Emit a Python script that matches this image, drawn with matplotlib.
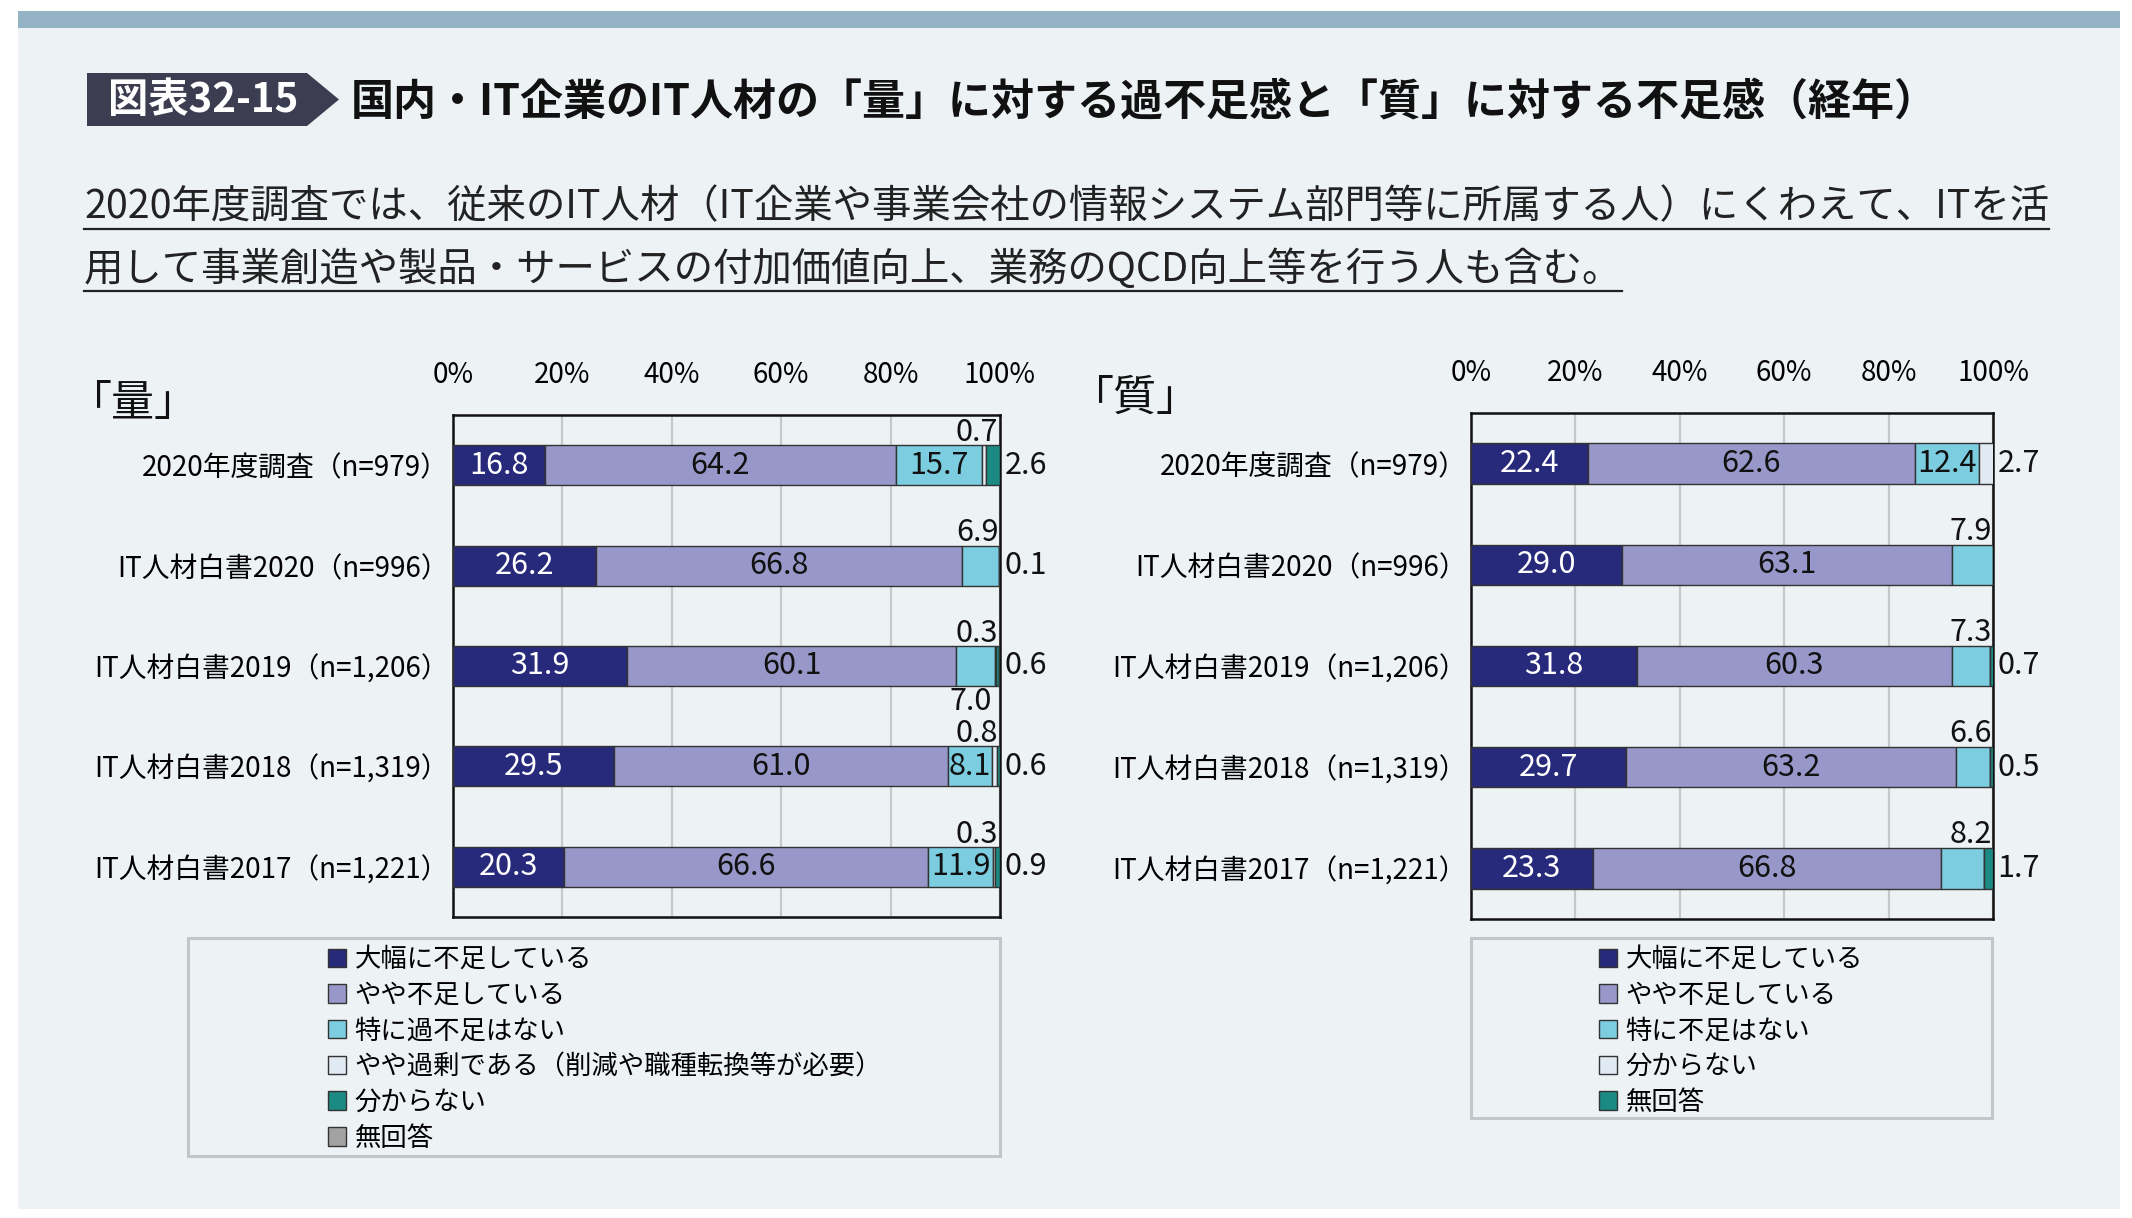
import matplotlib
matplotlib.use('Agg')
import matplotlib.pyplot as plt
from matplotlib.patches import Rectangle, Polygon, Patch
import numpy as np

plt.rcParams['font.family'] = ['Noto Sans CJK JP', 'DejaVu Sans']

# ── データ ─────────────────────────────────────────
categories = ['2020年度調査（n=979）', 'IT人材白書2020（n=996）', 'IT人材白書2019（n=1,206）',
              'IT人材白書2018（n=1,319）', 'IT人材白書2017（n=1,221）']

# 「量」
ryo_labels = ['大幅に不足している', 'やや不足している', '特に過不足はない',
              'やや過剰である（削減や職種転換等が必要）', '分からない', '無回答']
ryo_severe = [16.8, 26.2, 31.9, 29.5, 20.3]
ryo_some = [64.2, 66.8, 60.1, 61.0, 66.6]
ryo_ok = [15.7, 6.9, 7.0, 8.1, 11.9]
ryo_excess = [0.7, 0.0, 0.3, 0.8, 0.3]
ryo_unknown = [2.6, 0.1, 0.6, 0.6, 0.9]
ryo_noans = [0.0, 0.0, 0.0, 0.0, 0.0]

# 「質」
shitsu_labels = ['大幅に不足している', 'やや不足している', '特に不足はない', '分からない', '無回答']
shitsu_severe = [22.4, 29.0, 31.8, 29.7, 23.3]
shitsu_some = [62.6, 63.1, 60.3, 63.2, 66.8]
shitsu_ok = [12.4, 7.9, 7.3, 6.6, 8.2]
shitsu_unknown = [2.7, 0.0, 0.0, 0.0, 0.0]
shitsu_noans = [0.0, 0.0, 0.7, 0.5, 1.7]

# ── 色 ─────────────────────────────────────────────
C_NAVY = '#272a7b'
C_LAV = '#9797c9'
C_CYAN = '#7ccde0'
C_PALE = '#e1e9f3'
C_TEAL = '#1b8a82'
C_GRAY = '#a2a2a2'
BG = '#edf2f5'

W, H = 2132, 1218
fig = plt.figure(figsize=(W / 100, H / 100), dpi=100, facecolor='white')

# 背景用の全面 axes (ピクセル座標)
bg = fig.add_axes([0, 0, 1, 1], zorder=-5)
bg.set_xlim(0, W)
bg.set_ylim(H, 0)
bg.axis('off')
bg.add_patch(Rectangle((18, 11), 2102, 1198, facecolor=BG, edgecolor='none'))
bg.add_patch(Rectangle((18, 11), 2102, 17, facecolor='#94b4c6', edgecolor='none'))

# タイトル
bg.add_patch(Polygon([(87, 73), (307, 73), (339, 99.5), (307, 126), (87, 126)],
                     closed=True, facecolor='#3c3d50', edgecolor='none'))
bg.text(203, 100, '図表32-15', color='white', fontsize=29, fontweight='bold',
        ha='center', va='center')

renderer = fig.canvas.get_renderer()


def fit_text(x, y, s, target_w, size0, **kw):
    t = bg.text(x, y, s, fontsize=size0, ha='left', va='center', **kw)
    w = t.get_window_extent(renderer).width
    t.set_fontsize(size0 * target_w / w)
    return t


fit_text(351, 102, '国内・IT企業のIT人材の「量」に対する過不足感と「質」に対する不足感（経年）',
         1588, 30, fontweight='bold', color='#111111')

sub1 = fit_text(84, 207, '2020年度調査では、従来のIT人材（IT企業や事業会社の情報システム部門等に所属する人）にくわえて、ITを活',
                1969, 26, color='#222222')
sub2 = bg.text(84, 270, '用して事業創造や製品・サービスの付加価値向上、業務のQCD向上等を行う人も含む。',
               fontsize=sub1.get_fontsize(), ha='left', va='center', color='#222222')
for t, yy in [(sub1, 229), (sub2, 291)]:
    ext = t.get_window_extent(renderer)
    bg.plot([84, 84 + ext.width], [yy, yy], color='#222222', lw=1.6)

bg.text(68, 404, '「量」', fontsize=31, ha='left', va='center', color='#111111')
bg.text(1070, 399, '「質」', fontsize=31, ha='left', va='center', color='#111111')

# 凡例枠
bg.add_patch(Rectangle((188, 938), 812, 218, facecolor=BG, edgecolor='#c2c6ca', lw=2.2))
bg.add_patch(Rectangle((1471, 938), 521, 180, facecolor=BG, edgecolor='#c2c6ca', lw=2.2))


def px_axes(x0, y0, x1, y1):
    return fig.add_axes([x0 / W, 1 - y1 / H, (x1 - x0) / W, (y1 - y0) / H])


def draw_panel(ax, series, colors, inside_min):
    severe, some, ok, rest_above, rest_right = series
    n = len(categories)
    y = np.arange(n)
    bh = 0.4
    left = np.zeros(n)
    for vals, col in zip(colors['vals'], colors['cols']):
        ax.barh(y, vals, left=left, height=bh, color=col, edgecolor='#333333',
                linewidth=1.0, zorder=3)
        left = left + np.array(vals)

    ax.set_xlim(0, 100)
    ax.set_ylim(n - 0.5, -0.5)
    ax.set_facecolor(BG)
    ax.xaxis.tick_top()
    ax.set_xticks([0, 20, 40, 60, 80, 100])
    ax.set_xticklabels(['0%', '20%', '40%', '60%', '80%', '100%'])
    ax.tick_params(axis='x', length=0, pad=18, labelsize=20)
    ax.set_yticks(y)
    ax.set_yticklabels(categories)
    ax.tick_params(axis='y', length=0, pad=3, labelsize=20)
    ax.grid(axis='x', color='#c6c9cc', lw=1.6, zorder=0)
    for sp in ax.spines.values():
        sp.set_color('#111111')
        sp.set_linewidth(1.8)

    fs = 22
    for i in range(n):
        ax.text(severe[i] / 2, i, f'{severe[i]:.1f}', color='white', fontsize=fs,
                ha='center', va='center', zorder=5)
        ax.text(severe[i] + some[i] / 2, i, f'{some[i]:.1f}', color='#111111', fontsize=fs,
                ha='center', va='center', zorder=5)
        above = rest_above[i] if rest_above is not None else 0
        if ok[i] >= inside_min:
            ax.text(severe[i] + some[i] + ok[i] / 2, i, f'{ok[i]:.1f}', color='#111111',
                    fontsize=fs, ha='center', va='center', zorder=5)
        elif above > 0:
            # 上側は「やや過剰」の値が使うので、バーの下に置く
            ax.text(98.6, i + bh / 2, f'{ok[i]:.1f}', color='#111111', fontsize=fs,
                    ha='right', va='top', zorder=5)
        else:
            ax.text(99.8, i - bh / 2 + 0.02, f'{ok[i]:.1f}', color='#111111', fontsize=fs,
                    ha='right', va='bottom', zorder=5)
        if above > 0:
            ax.text(99.6, i - bh / 2 + 0.03, f'{above:.1f}', color='#111111', fontsize=fs,
                    ha='right', va='bottom', zorder=5)
        if rest_right[i] > 0:
            ax.text(100.9, i, f'{rest_right[i]:.1f}', color='#111111', fontsize=fs,
                    ha='left', va='center', clip_on=False, zorder=5)


# 「量」パネル
ax1 = px_axes(453, 415, 1000, 917)
ryo_right = [u + na for u, na in zip(ryo_unknown, ryo_noans)]
draw_panel(ax1, (ryo_severe, ryo_some, ryo_ok, ryo_excess, ryo_right),
           {'vals': [ryo_severe, ryo_some, ryo_ok, ryo_excess, ryo_unknown, ryo_noans],
            'cols': [C_NAVY, C_LAV, C_CYAN, C_PALE, C_TEAL, C_GRAY]}, inside_min=8.0)

# 「質」パネル
ax2 = px_axes(1471, 413, 1993, 919)
shitsu_right = [u + na for u, na in zip(shitsu_unknown, shitsu_noans)]
draw_panel(ax2, (shitsu_severe, shitsu_some, shitsu_ok, None, shitsu_right),
           {'vals': [shitsu_severe, shitsu_some, shitsu_ok, shitsu_unknown, shitsu_noans],
            'cols': [C_NAVY, C_LAV, C_CYAN, C_PALE, C_TEAL]}, inside_min=9.0)

# 凡例
leg_kw = dict(loc='upper left', frameon=False, fontsize=19, handlelength=0.7,
              handleheight=0.7, handletextpad=0.3, labelspacing=0.33,
              borderpad=0, borderaxespad=0)
h1 = [Patch(facecolor=c, edgecolor='#333333', lw=1.0) for c in
      [C_NAVY, C_LAV, C_CYAN, C_PALE, C_TEAL, C_GRAY]]
fig.legend(h1, ryo_labels, bbox_to_anchor=(328 / W, 1 - 946 / H), **leg_kw)
h2 = [Patch(facecolor=c, edgecolor='#333333', lw=1.0) for c in
      [C_NAVY, C_LAV, C_CYAN, C_PALE, C_TEAL]]
fig.legend(h2, shitsu_labels, bbox_to_anchor=(1599 / W, 1 - 946 / H), **leg_kw)

fig.savefig('out.png', dpi=100, facecolor='white')
